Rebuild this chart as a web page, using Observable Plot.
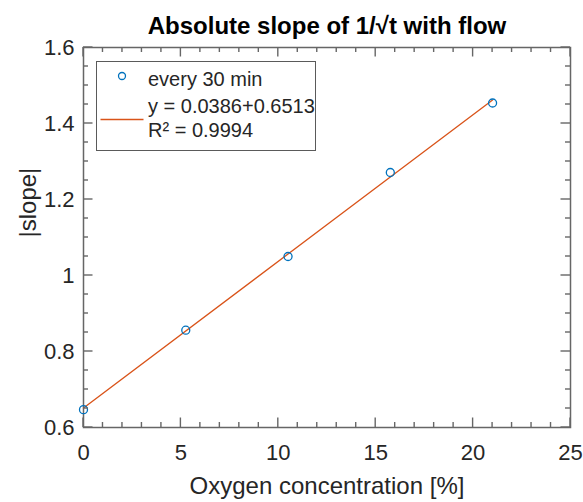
<!DOCTYPE html>
<html>
<head>
<meta charset="utf-8">
<script src="https://cdn.jsdelivr.net/npm/d3@7"></script>
<script src="https://cdn.jsdelivr.net/npm/@observablehq/plot@0.6"></script>
<style>
  html, body { margin: 0; padding: 0; background: #fff; }
  #wrap { position: relative; width: 583px; height: 502px; font-family: "Liberation Sans", Arial, sans-serif; }
  #legend { position: absolute; left: 95.5px; top: 60.5px; }
</style>
</head>
<body>
<div id="wrap"></div>
<script>
// Data
const oxygen = [0, 5.25, 10.5, 15.75, 21];
const slope = [0.647, 0.856, 1.05, 1.271, 1.454];
const fitX = [0, 21];
const fitY = [0.6513, 1.4619];

const titleText = "Absolute slope of 1/\u221At with flow";
const xLabel = "Oxygen concentration [%]";
const yLabel = "|slope|";
const legendLabels = ["every 30 min", "y = 0.0386+0.6513", "R\u00B2 = 0.9994"];

const xTicks = [0, 5, 10, 15, 20, 25];
const yTicks = [0.6, 0.8, 1, 1.2, 1.4, 1.6];
const yTickLabels = ["0.6", "0.8", "1", "1.2", "1.4", "1.6"];
const xMinor = d3.range(0, 26, 1).filter(v => v % 5 !== 0);
const yMinor = d3.range(0, 21, 1).map(i => +(0.6 + i * 0.05).toFixed(2)).filter(v => !yTicks.includes(v));

const points = oxygen.map((x, i) => ({x, y: slope[i]}));
const fit = fitX.map((x, i) => ({x, y: fitY[i]}));

const W = 583, H = 502, mT = 47, mB = 75, mL = 83, mR = 13;
const axisColor = "#666666";
const textColor = "#262626";
const majL = 9.5, minL = 5;

const chart = Plot.plot({
  width: W, height: H,
  marginTop: mT, marginBottom: mB, marginLeft: mL, marginRight: mR,
  style: {fontFamily: '"Liberation Sans", Arial, sans-serif', fontSize: "22px", color: textColor, background: "white", overflow: "visible"},
  x: {domain: [0, 25]},
  y: {domain: [0.6, 1.6]},
  marks: [
    Plot.axisX({ticks: xTicks, tickSize: 0, tickPadding: 17, tickFormat: d => String(d), label: null, fill: textColor, fontSize: 22}),
    Plot.axisY({ticks: yTicks, tickSize: 0, tickPadding: 9, tickFormat: d => yTickLabels[yTicks.indexOf(d)], label: null, fill: textColor, fontSize: 22}),
    Plot.frame({stroke: axisColor, strokeWidth: 1.5, fill: "none"}),
    Plot.line(fit, {x: "x", y: "y", stroke: "#D95319", strokeWidth: 1.3}),
    Plot.dot(points, {x: "x", y: "y", r: 4, stroke: "#0072BD", strokeWidth: 1.3, fill: "none"}),
    Plot.text([titleText], {frameAnchor: "top", lineAnchor: "bottom", dy: -14, fontSize: 24, fontWeight: "bold", fill: "#000"}),
    Plot.text([xLabel], {frameAnchor: "bottom", lineAnchor: "bottom", dy: 66, fontSize: 24, fill: textColor}),
    Plot.text([yLabel], {frameAnchor: "left", lineAnchor: "bottom", rotate: -90, dx: -48, fontSize: 24, fill: textColor})
  ]
});

// Inward tick marks on all four sides, positioned with Plot's own scales
const sx = chart.scale("x"), sy = chart.scale("y");
const x0 = mL, x1 = W - mR, y0 = mT, y1 = H - mB;
const tg = d3.select(chart).append("g")
  .attr("stroke", axisColor).attr("stroke-width", 1.4).attr("fill", "none");
function xt(vals, len) {
  vals.forEach(v => {
    const px = sx.apply(v);
    tg.append("line").attr("x1", px).attr("x2", px).attr("y1", y1).attr("y2", y1 - len);
    tg.append("line").attr("x1", px).attr("x2", px).attr("y1", y0).attr("y2", y0 + len);
  });
}
function yt(vals, len) {
  vals.forEach(v => {
    const py = sy.apply(v);
    tg.append("line").attr("y1", py).attr("y2", py).attr("x1", x0).attr("x2", x0 + len);
    tg.append("line").attr("y1", py).attr("y2", py).attr("x1", x1).attr("x2", x1 - len);
  });
}
xt(xTicks, majL); xt(xMinor, minL);
yt(yTicks, majL); yt(yMinor, minL);

const wrap = document.getElementById("wrap");
wrap.appendChild(chart);

// Legend (MATLAB-style box inside the axes)
const lg = d3.create("svg").attr("id", "legend").attr("width", 221).attr("height", 91)
  .style("font-family", '"Liberation Sans", Arial, sans-serif');
lg.append("rect").attr("x", 0.5).attr("y", 0.5).attr("width", 219).attr("height", 89)
  .attr("fill", "white").attr("stroke", "#5a5a5a").attr("stroke-width", 1);
lg.append("circle").attr("cx", 26).attr("cy", 15).attr("r", 3.5)
  .attr("fill", "none").attr("stroke", "#0072BD").attr("stroke-width", 1.3);
lg.append("line").attr("x1", 4.5).attr("x2", 47.5).attr("y1", 58.5).attr("y2", 58.5)
  .attr("stroke", "#D95319").attr("stroke-width", 1.3);
const baselines = [25.2, 52.2, 76.2];
legendLabels.forEach((t, i) => {
  lg.append("text").attr("x", 52).attr("y", baselines[i]).attr("font-size", 20)
    .attr("fill", textColor).text(t);
});
wrap.appendChild(lg.node());
</script>
</body>
</html>
